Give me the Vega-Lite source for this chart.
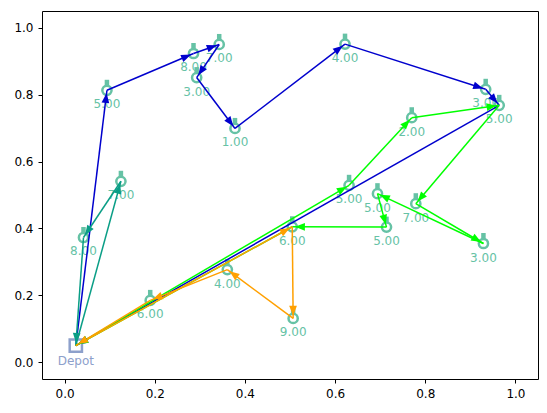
{
  "$schema": "https://vega.github.io/schema/vega-lite/v6.json",
  "width": 496,
  "height": 368,
  "autosize": "none",
  "padding": {"left": 42, "top": 11, "right": 9, "bottom": 34},
  "background": "white",
  "config": {
    "view": {"stroke": "black", "strokeWidth": 1},
    "font": "DejaVu Sans",
    "axis": {"grid": false, "domain": false, "tickColor": "black", "tickSize": 4, "tickWidth": 1, "labelColor": "black", "labelFontSize": 12, "labelFont": "DejaVu Sans", "title": null}
  },
  "datasets": {
    "nodes": [
      {"id": "Depot", "kind": "depot", "x": 0.025, "y": 0.05, "demand": null},
      {"id": "b1", "kind": "customer", "x": 0.094, "y": 0.813, "demand": 5},
      {"id": "b2", "kind": "customer", "x": 0.286, "y": 0.923, "demand": 8},
      {"id": "b3", "kind": "customer", "x": 0.343, "y": 0.950, "demand": 7},
      {"id": "b4", "kind": "customer", "x": 0.293, "y": 0.851, "demand": 3},
      {"id": "b5", "kind": "customer", "x": 0.378, "y": 0.699, "demand": 1},
      {"id": "b6", "kind": "customer", "x": 0.622, "y": 0.951, "demand": 4},
      {"id": "b7", "kind": "customer", "x": 0.934, "y": 0.816, "demand": 3},
      {"id": "b8", "kind": "customer", "x": 0.964, "y": 0.768, "demand": 5},
      {"id": "t1", "kind": "customer", "x": 0.125, "y": 0.541, "demand": 7},
      {"id": "t2", "kind": "customer", "x": 0.042, "y": 0.373, "demand": 8},
      {"id": "g1", "kind": "customer", "x": 0.631, "y": 0.529, "demand": 5},
      {"id": "g2", "kind": "customer", "x": 0.770, "y": 0.731, "demand": 2},
      {"id": "g3", "kind": "customer", "x": 0.779, "y": 0.474, "demand": 7},
      {"id": "g4", "kind": "customer", "x": 0.929, "y": 0.355, "demand": 3},
      {"id": "g5", "kind": "customer", "x": 0.694, "y": 0.504, "demand": 5},
      {"id": "g6", "kind": "customer", "x": 0.714, "y": 0.404, "demand": 5},
      {"id": "m", "kind": "customer", "x": 0.505, "y": 0.405, "demand": 6},
      {"id": "o1", "kind": "customer", "x": 0.190, "y": 0.185, "demand": 6},
      {"id": "o2", "kind": "customer", "x": 0.361, "y": 0.277, "demand": 4},
      {"id": "o3", "kind": "customer", "x": 0.507, "y": 0.131, "demand": 9}
    ],
    "edges": [
      {"route": "blue", "from": "Depot", "to": "b1"},
      {"route": "blue", "from": "b1", "to": "b2"},
      {"route": "blue", "from": "b2", "to": "b3"},
      {"route": "blue", "from": "b3", "to": "b4"},
      {"route": "blue", "from": "b4", "to": "b5"},
      {"route": "blue", "from": "b5", "to": "b6"},
      {"route": "blue", "from": "b6", "to": "b7"},
      {"route": "blue", "from": "b7", "to": "b8"},
      {"route": "blue", "from": "b8", "to": "Depot"},
      {"route": "teal", "from": "Depot", "to": "t1"},
      {"route": "teal", "from": "t1", "to": "t2"},
      {"route": "teal", "from": "t2", "to": "Depot"},
      {"route": "green", "from": "Depot", "to": "g1"},
      {"route": "green", "from": "g1", "to": "g2"},
      {"route": "green", "from": "g2", "to": "b8"},
      {"route": "green", "from": "b8", "to": "g3"},
      {"route": "green", "from": "g3", "to": "g4"},
      {"route": "green", "from": "g4", "to": "g5"},
      {"route": "green", "from": "g5", "to": "g6"},
      {"route": "green", "from": "g6", "to": "m"},
      {"route": "green", "from": "m", "to": "Depot"},
      {"route": "orange", "from": "Depot", "to": "m"},
      {"route": "orange", "from": "m", "to": "o3"},
      {"route": "orange", "from": "o3", "to": "o2"},
      {"route": "orange", "from": "o2", "to": "o1"},
      {"route": "orange", "from": "o1", "to": "Depot"}
    ]
  },
  "encoding": {
    "x": {"field": "x", "type": "quantitative", "scale": {"domain": [-0.05, 1.05], "nice": false, "zero": false}, "axis": {"values": [0, 0.2, 0.4, 0.6, 0.8, 1.0], "format": ".1f", "labelPadding": 5}},
    "y": {"field": "y", "type": "quantitative", "scale": {"domain": [-0.05, 1.05], "nice": false, "zero": false}, "axis": {"values": [0, 0.2, 0.4, 0.6, 0.8, 1.0], "format": ".1f", "labelPadding": 5}}
  },
  "layer": [
    {
      "data": {"name": "nodes"},
      "transform": [{"filter": "datum.kind == 'depot'"}],
      "mark": {"type": "point", "shape": "square", "filled": false, "stroke": "#8da0cb", "strokeWidth": 2.5, "size": 150, "opacity": 1}
    },
    {
      "data": {"name": "nodes"},
      "transform": [{"filter": "datum.kind == 'depot'"}],
      "mark": {"type": "text", "dy": 15, "baseline": "middle", "fontSize": 12, "color": "#8da0cb"},
      "encoding": {"text": {"field": "id"}}
    },
    {
      "data": {"name": "nodes"},
      "transform": [{"filter": "datum.kind == 'customer'"}],
      "mark": {"type": "point", "shape": "circle", "filled": false, "stroke": "#66c2a5", "strokeWidth": 2.5, "size": 85, "opacity": 1}
    },
    {
      "data": {"name": "nodes"},
      "transform": [{"filter": "datum.kind == 'customer'"}],
      "mark": {"type": "point", "shape": "M-0.75,-1L0.75,-1L0.75,1L-0.75,1Z", "filled": true, "size": 36, "yOffset": -7.5, "color": "#66c2a5", "strokeWidth": 0, "opacity": 1}
    },
    {
      "data": {"name": "nodes"},
      "transform": [{"filter": "datum.kind == 'customer'"}],
      "mark": {"type": "text", "dy": 14, "baseline": "middle", "fontSize": 12, "color": "#66c2a5"},
      "encoding": {"text": {"field": "demand", "type": "quantitative", "format": ".2f"}}
    },
    {
      "data": {"name": "edges"},
      "transform": [
        {"lookup": "from", "from": {"data": {"name": "nodes"}, "key": "id", "fields": ["x", "y"]}, "as": ["x1", "y1"]},
        {"lookup": "to", "from": {"data": {"name": "nodes"}, "key": "id", "fields": ["x", "y"]}, "as": ["x2", "y2"]},
        {"calculate": "atan2(-(datum.y2 - datum.y1) * 334.5, (datum.x2 - datum.x1) * 451) * 180 / PI", "as": "angle"}
      ],
      "layer": [
        {
          "mark": {"type": "rule", "strokeWidth": 1.5},
          "encoding": {
            "x": {"field": "x1", "type": "quantitative"},
            "y": {"field": "y1", "type": "quantitative"},
            "x2": {"field": "x2"},
            "y2": {"field": "y2"},
            "color": {"field": "route", "type": "nominal", "scale": {"domain": ["blue", "teal", "green", "orange"], "range": ["#0000cd", "#0a9e86", "#00ff00", "#ffa000"]}, "legend": null}
          }
        },
        {
          "mark": {"type": "point", "shape": "M-0.5,0L-2.3,-0.7L-2.3,0.7Z", "filled": true, "size": 121, "opacity": 1, "strokeWidth": 0},
          "encoding": {
            "x": {"field": "x2", "type": "quantitative"},
            "y": {"field": "y2", "type": "quantitative"},
            "angle": {"field": "angle", "type": "quantitative", "scale": null},
            "color": {"field": "route", "type": "nominal", "legend": null}
          }
        }
      ]
    }
  ]
}
